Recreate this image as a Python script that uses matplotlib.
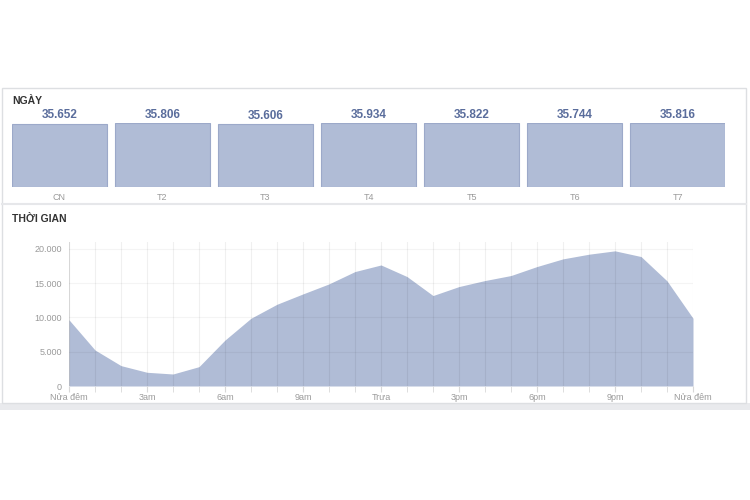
import matplotlib
matplotlib.use('Agg')
import matplotlib.pyplot as plt
from matplotlib.patches import Rectangle
from matplotlib.ticker import FuncFormatter

plt.rcParams['font.family'] = ['Liberation Sans', 'DejaVu Sans']

# ── DATA ──
days = ['CN', 'T2', 'T3', 'T4', 'T5', 'T6', 'T7']
day_values = [35652, 35806, 35606, 35934, 35822, 35744, 35816]

hours = list(range(25))
hour_values = [9650, 5250, 2970, 2000, 1750, 2820, 6700, 9880, 11920, 13430,
               14890, 16690, 17650, 15960, 13190, 14500, 15380, 16110, 17420,
               18540, 19220, 19710, 18880, 15330, 9880]
hour_ticks = [0, 3, 6, 9, 12, 15, 18, 21, 24]
hour_labels = ['Nửa đêm', '3am', '6am', '9am', 'Trưa', '3pm', '6pm', '9pm', 'Nửa đêm']

W, H = 750, 500
FILL = '#b0bcd6'
EDGE = '#9ca9c9'
VALUE_COL = '#5a6d9c'
LABEL_COL = '#9a9a9a'


def px_rect(left, top, right, bottom):
    # pixel box -> figure fraction
    return [left / W, 1 - bottom / H, (right - left) / W, (bottom - top) / H]


def dot_thousands(v):
    return f'{int(v):,}'.replace(',', '.')


fig = plt.figure(figsize=(7.5, 5), dpi=100)
fig.patch.set_facecolor('white')

# ── PANEL BACKGROUND ──
bg = fig.add_axes([0, 0, 1, 1])
bg.set_xlim(0, W)
bg.set_ylim(H, 0)
bg.axis('off')
bg.add_patch(Rectangle((0, 403), W, 7, facecolor='#e9eaed', edgecolor='none'))
bg.add_patch(Rectangle((2, 88), 744, 315, facecolor='white', edgecolor='#dddfe2', lw=1))
bg.plot([2, 746], [204, 204], color='#e6e7ea', lw=1.5)
bg.text(12, 101, 'NGÀY', fontsize=7.5, fontweight='bold', color='#333333', va='center')
bg.text(12, 219, 'THỜI GIAN', fontsize=7.5, fontweight='bold', color='#333333', va='center')

# ── DAY BARS ──
ax1 = fig.add_axes(px_rect(12, 123, 725, 187))
x = list(range(len(days)))
ax1.bar(x, day_values, width=0.92, color=FILL, edgecolor=EDGE, lw=0.8)
ax1.set_xlim(-0.46, len(days) - 0.54)
ax1.set_ylim(0, max(day_values))
ax1.axis('off')
for i, v in enumerate(day_values):
    ax1.annotate(dot_thousands(v), (i, v), xytext=(0, 1.5), textcoords='offset points',
                 ha='center', va='bottom', fontsize=8.5, fontweight='bold', color=VALUE_COL)
    ax1.annotate(days[i], (i, 0), xytext=(0, -4), textcoords='offset points',
                 ha='center', va='top', fontsize=6.5, color=LABEL_COL)

# ── HOURLY AREA ──
ax2 = fig.add_axes(px_rect(69, 242, 693, 386))
ax2.fill_between(hours, hour_values, color=FILL, lw=0)
ax2.set_xlim(0, 24)
ax2.set_ylim(0, 21000)
ax2.set_xticks(hours, minor=True)
ax2.set_xticks(hour_ticks)
ax2.set_xticklabels(hour_labels)
ax2.set_yticks([0, 5000, 10000, 15000, 20000])
ax2.yaxis.set_major_formatter(FuncFormatter(lambda v, p: dot_thousands(v)))
ax2.tick_params(axis='x', which='both', length=4, color='#d8d8d8', labelsize=6.5,
                labelcolor=LABEL_COL, pad=1)
ax2.tick_params(axis='y', length=0, labelsize=6.5, labelcolor=LABEL_COL, pad=5)
ax2.set_axisbelow(False)
ax2.grid(True, which='both', axis='x', color='black', alpha=0.06, lw=0.8)
for yv in [5000, 10000, 15000, 20000]:
    ax2.axhline(yv, color='black', alpha=0.045, lw=0.8)
for s in ax2.spines.values():
    s.set_visible(False)
ax2.axvline(0, color='black', alpha=0.1, lw=0.8)
ax2.patch.set_alpha(0)

fig.savefig('out.png', dpi=100)
